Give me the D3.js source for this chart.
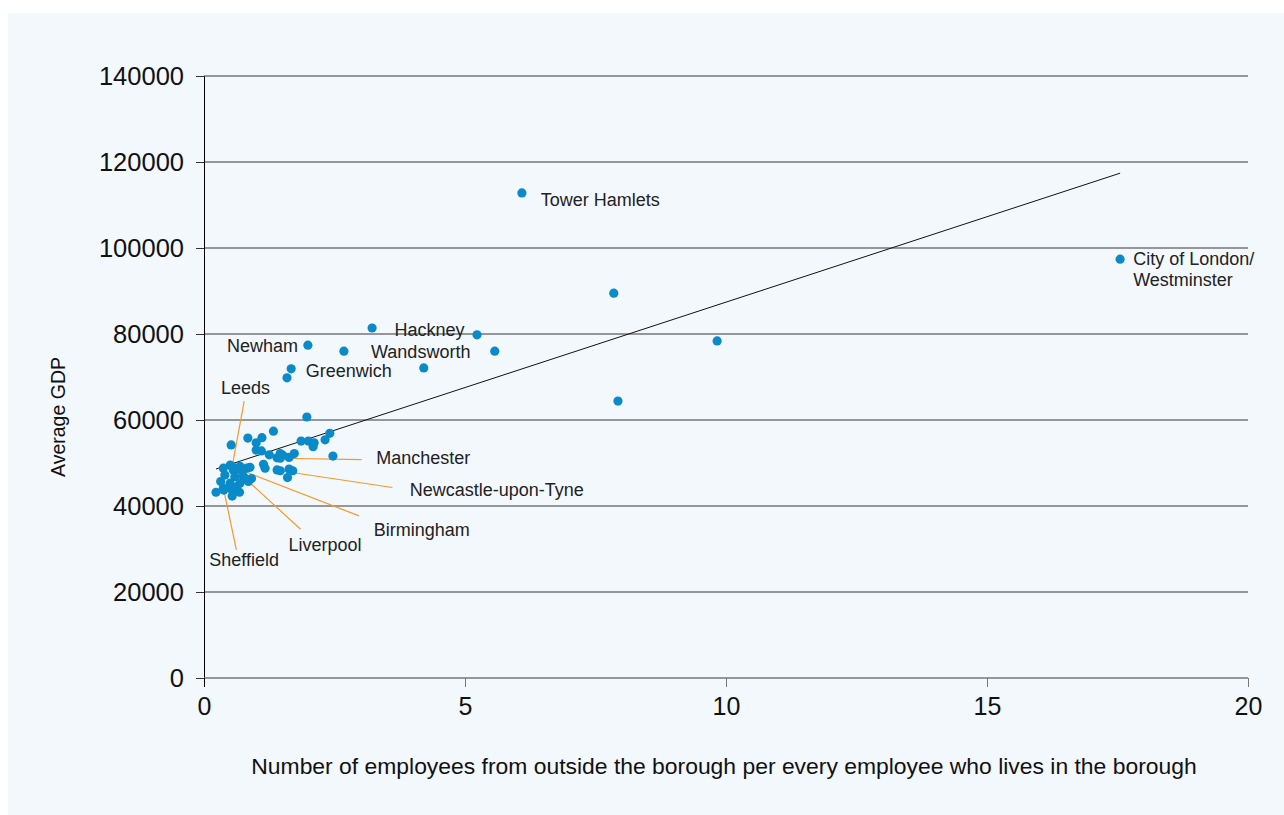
<!DOCTYPE html>
<html>
<head>
<meta charset="utf-8">
<script src="https://cdn.jsdelivr.net/npm/d3@7"></script>
<style>
  body { margin: 0; background: #fff; }
  svg { display: block; font-family: "Liberation Sans", Arial, sans-serif; }
</style>
</head>
<body>
<div id="chart"></div>
<script>
// ratio of outside employees to resident employees, and average GDP
var ratio = [6.09, 17.55, 7.85, 9.83, 7.93, 3.22, 5.23, 5.57, 1.99, 2.68, 4.21, 1.67, 1.59, 1.97,
  1.33, 2.41, 0.84, 1.11, 1.00, 1.86, 2.00, 2.11, 2.09, 2.32, 0.52, 1.00, 1.10, 1.25, 1.46, 1.51,
  1.73, 1.40, 1.63, 2.47, 1.14, 1.17, 1.40, 1.63, 1.70, 1.60, 0.37, 0.50, 0.56, 0.69, 0.82, 0.88,
  0.40, 0.59, 0.75, 0.91, 0.32, 0.50, 0.69, 0.85, 0.23, 0.37, 0.54, 0.54, 0.68, 0.50, 0.63,
  0.54, 0.38, 0.79, 0.68, 1.46, 1.46];
var gdp = [112800, 97400, 89500, 78400, 64400, 81400, 79800, 76000, 77400, 76000, 72100, 71900, 69800, 60700,
  57400, 56900, 55800, 55900, 54700, 55100, 55100, 54700, 53800, 55400, 54200, 53000, 52800, 51900, 52200, 51800,
  52200, 51200, 51300, 51600, 49700, 48800, 48400, 48600, 48200, 46600, 48800, 49500, 48400, 49200, 48800, 49000,
  47200, 46800, 47000, 46400, 45700, 45300, 45300, 45700, 43200, 44100, 43700, 42300, 43200, 44500, 44500,
  49200, 43700, 46400, 48500, 48200, 51100];

// labels placed next to their point
var plainNames = ["Tower Hamlets", "City of London/", "Westminster", "Hackney", "Newham", "Wandsworth", "Greenwich"];
var plainX = [6.45, 17.8, 17.8, 3.65, 0.44, 3.2, 1.95];
var plainY = [111300, 97600, 92700, 81100, 77300, 75800, 71400];

// labels joined to their point with a leader line
var leaderNames = ["Leeds", "Sheffield", "Liverpool", "Birmingham", "Newcastle-upon-Tyne", "Manchester"];
var leaderPx = [0.54, 0.38, 0.79, 0.68, 1.46, 1.46];
var leaderPy = [49200, 43700, 46400, 48500, 48200, 51100];
var leaderEndX = [0.77, 0.62, 1.85, 2.97, 3.61, 3.02];
var leaderEndY = [64400, 29800, 34600, 37700, 44300, 50800];
var leaderTextX = [0.325, 0.1, 1.62, 3.25, 3.94, 3.3];
var leaderTextY = [67600, 27600, 31000, 34500, 43800, 51300];

var trendX = [0.23, 17.55];
var trendY = [48600, 117400];

var xTicks = [0, 5, 10, 15, 20];
var yTicks = [0, 20000, 40000, 60000, 80000, 100000, 120000, 140000];

var W = 1284, H = 815;
var margin = {top: 76, right: 36, bottom: 137, left: 204},
    width = W - margin.left - margin.right,
    height = H - margin.top - margin.bottom;

var svg = d3.select("#chart").append("svg")
    .attr("width", W)
    .attr("height", H);

svg.append("rect")
    .attr("x", 8).attr("y", 13)
    .attr("width", W - 8).attr("height", H - 13)
    .attr("fill", "#f3f8fc");

var g = svg.append("g")
    .attr("transform", "translate(" + margin.left + "," + margin.top + ")");

var x = d3.scaleLinear().domain([0, 20]).range([0, width]);
var y = d3.scaleLinear().domain([0, 140000]).range([height, 0]);

// gridlines
g.selectAll(".grid")
  .data(yTicks.slice(1))
  .enter().append("line")
    .attr("x1", 0).attr("x2", width)
    .attr("y1", function(d) { return y(d); })
    .attr("y2", function(d) { return y(d); })
    .attr("stroke", "#777")
    .attr("stroke-width", 1.3);

// y axis
var yAxis = g.append("g")
    .call(d3.axisLeft(y).tickValues(yTicks).tickFormat(d3.format("d")).tickSize(8).tickPadding(12));
yAxis.select(".domain").attr("stroke", "#000");
yAxis.selectAll("line").attr("stroke", "#333");
yAxis.selectAll("text").attr("font-size", 25.5).attr("fill", "#111")
    .attr("font-family", "Liberation Sans, Arial, sans-serif");

// x axis
var xAxis = g.append("g")
    .attr("transform", "translate(0," + height + ")")
    .call(d3.axisBottom(x).tickValues(xTicks).tickSize(9).tickPadding(10));
xAxis.select(".domain").attr("stroke", "#777").attr("stroke-width", 1.3).attr("d", "M0,0H" + width);
xAxis.selectAll("line").attr("stroke", function(d) { return d === 0 ? "#000" : "#777"; });
xAxis.selectAll("text").attr("font-size", 25).attr("fill", "#111")
    .attr("font-family", "Liberation Sans, Arial, sans-serif");

// trend line
g.append("line")
    .attr("x1", x(trendX[0])).attr("y1", y(trendY[0]))
    .attr("x2", x(trendX[1])).attr("y2", y(trendY[1]))
    .attr("stroke", "#111")
    .attr("stroke-width", 1);

// leader lines
g.selectAll(".leader")
  .data(leaderNames)
  .enter().append("line")
    .attr("x1", function(d, i) { return x(leaderPx[i]); })
    .attr("y1", function(d, i) { return y(leaderPy[i]); })
    .attr("x2", function(d, i) { return x(leaderEndX[i]); })
    .attr("y2", function(d, i) { return y(leaderEndY[i]); })
    .attr("stroke", "#f39a2b")
    .attr("stroke-width", 1.2);

// points
g.selectAll(".dot")
  .data(ratio)
  .enter().append("circle")
    .attr("cx", function(d) { return x(d); })
    .attr("cy", function(d, i) { return y(gdp[i]); })
    .attr("r", 4.6)
    .attr("fill", "#0a8ac8");

g.selectAll(".plain")
  .data(plainNames)
  .enter().append("text")
    .attr("x", function(d, i) { return x(plainX[i]); })
    .attr("y", function(d, i) { return y(plainY[i]); })
    .attr("dy", "0.35em")
    .attr("font-size", 18)
    .attr("fill", "#222")
    .text(function(d) { return d; });

g.selectAll(".leaderLabel")
  .data(leaderNames)
  .enter().append("text")
    .attr("x", function(d, i) { return x(leaderTextX[i]); })
    .attr("y", function(d, i) { return y(leaderTextY[i]); })
    .attr("dy", "0.35em")
    .attr("font-size", 18)
    .attr("fill", "#222")
    .text(function(d) { return d; });

// axis titles
svg.append("text")
    .attr("x", 724).attr("y", 774)
    .attr("text-anchor", "middle")
    .attr("font-size", 22.9)
    .attr("fill", "#111")
    .text("Number of employees from outside the borough per every employee who lives in the borough");

svg.append("text")
    .attr("transform", "translate(65,417) rotate(-90)")
    .attr("text-anchor", "middle")
    .attr("font-size", 19.5)
    .attr("fill", "#111")
    .text("Average GDP");
</script>
</body>
</html>
